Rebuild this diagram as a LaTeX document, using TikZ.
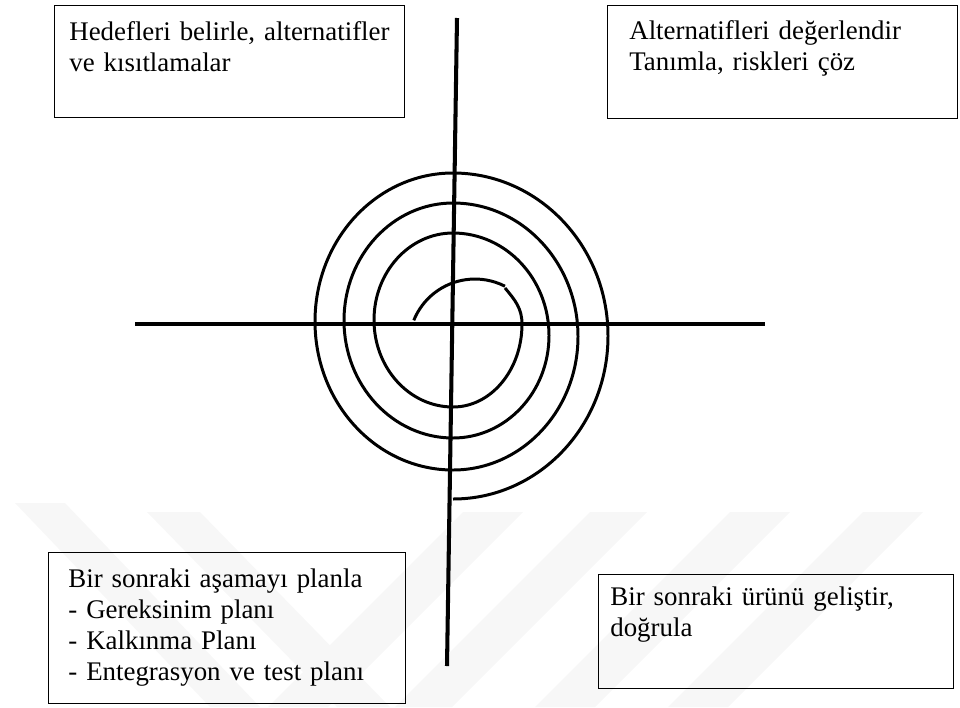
\documentclass[tikz,border=0pt]{standalone}
\usepackage{fontspec}
\setmainfont{Liberation Serif}
\usetikzlibrary{positioning}
\definecolor{markgray}{RGB}{247,247,247}
\newlength\px
\setlength\px{0.02cm}
\tikzset{
  panel/.style={draw,line width=0.8pt,rectangle,inner sep=0pt,anchor=north west},
  paneltext/.style={anchor=base west,inner sep=0pt,align=left,text width=#1,
    font=\fontsize{15.3}{17.8}\selectfont},
  axisline/.style={line width=2.3pt},
  spiral/.style={line width=1.7pt},
  band/.style={fill=markgray}
}
\begin{document}
\begin{tikzpicture}[x=0.02cm,y=0.02cm]
  \useasboundingbox (0,0) rectangle (960,-707);
  % faint background marks
  \begin{scope}
    \clip (0,0) rectangle (960,-707);
    \fill[band] (15,-503) -- (65,-503) -- (260,-707) -- (210,-707) -- cycle;
    \fill[band] (147,-512) -- (200,-512) -- (390,-707) -- (337,-707) -- cycle;
    \fill[band] (463,-512) -- (523,-512) -- (328,-707) -- (268,-707) -- cycle;
    \fill[band] (590,-512) -- (647,-512) -- (452,-707) -- (395,-707) -- cycle;
    \fill[band] (730,-512) -- (790,-512) -- (595,-707) -- (535,-707) -- cycle;
    \fill[band] (863,-512) -- (923,-512) -- (728,-707) -- (668,-707) -- cycle;
  \end{scope}

  % quadrant boxes
  \node[panel,minimum width=350\px,minimum height=112\px] (goals) at (54,-5) {};
  \node[paneltext=330\px] (goalstext) at ([shift={(15,-35)}]goals.north west)
    {Hedefleri belirle, alternatifler\\ve kısıtlamalar};
  \node[panel,minimum width=350\px,minimum height=113\px] (risks) at (607,-5) {};
  \node[paneltext=320\px] (riskstext) at ([shift={(22,-34)}]risks.north west)
    {Alternatifleri değerlendir\\Tanımla, riskleri çöz};
  \node[panel,minimum width=357\px,minimum height=151\px] (plan) at (48,-552) {};
  \node[paneltext=330\px] (plantext) at ([shift={(20,-35)}]plan.north west)
    {Bir sonraki aşamayı planla\\- Gereksinim planı\\- Kalkınma Planı\\- Entegrasyon ve test planı};
  \node[panel,minimum width=355\px,minimum height=114\px] (develop) at (598,-574) {};
  \node[paneltext=330\px] (developtext) at ([shift={(12,-31)}]develop.north west)
    {Bir sonraki ürünü geliştir,\\doğrula};

  % spiral
  \draw[spiral] (413.8,-320.3) arc[start angle=158,end angle=63,radius=66];
  \draw[spiral] (505,-288) to[out=-50,in=90] (522,-324)
    arc[start angle=0,end angle=-90,x radius=69,y radius=83]
    arc[start angle=270,end angle=90,x radius=79,y radius=87]
    arc[start angle=90,end angle=-90,x radius=96,y radius=102.5]
    arc[start angle=270,end angle=90,x radius=109,y radius=117.5]
    arc[start angle=90,end angle=-90,x radius=125,y radius=133.5]
    arc[start angle=270,end angle=90,x radius=138,y radius=148.5]
    arc[start angle=90,end angle=-90,x radius=155,y radius=163];

  % axes
  \coordinate (west) at (135,-324);
  \coordinate (east) at (765,-324);
  \coordinate (north) at (457,-18);
  \coordinate (south) at (447,-666);
  \draw[axisline] (west) -- (east);
  \draw[axisline] (north) -- (south);
\end{tikzpicture}
\end{document}
